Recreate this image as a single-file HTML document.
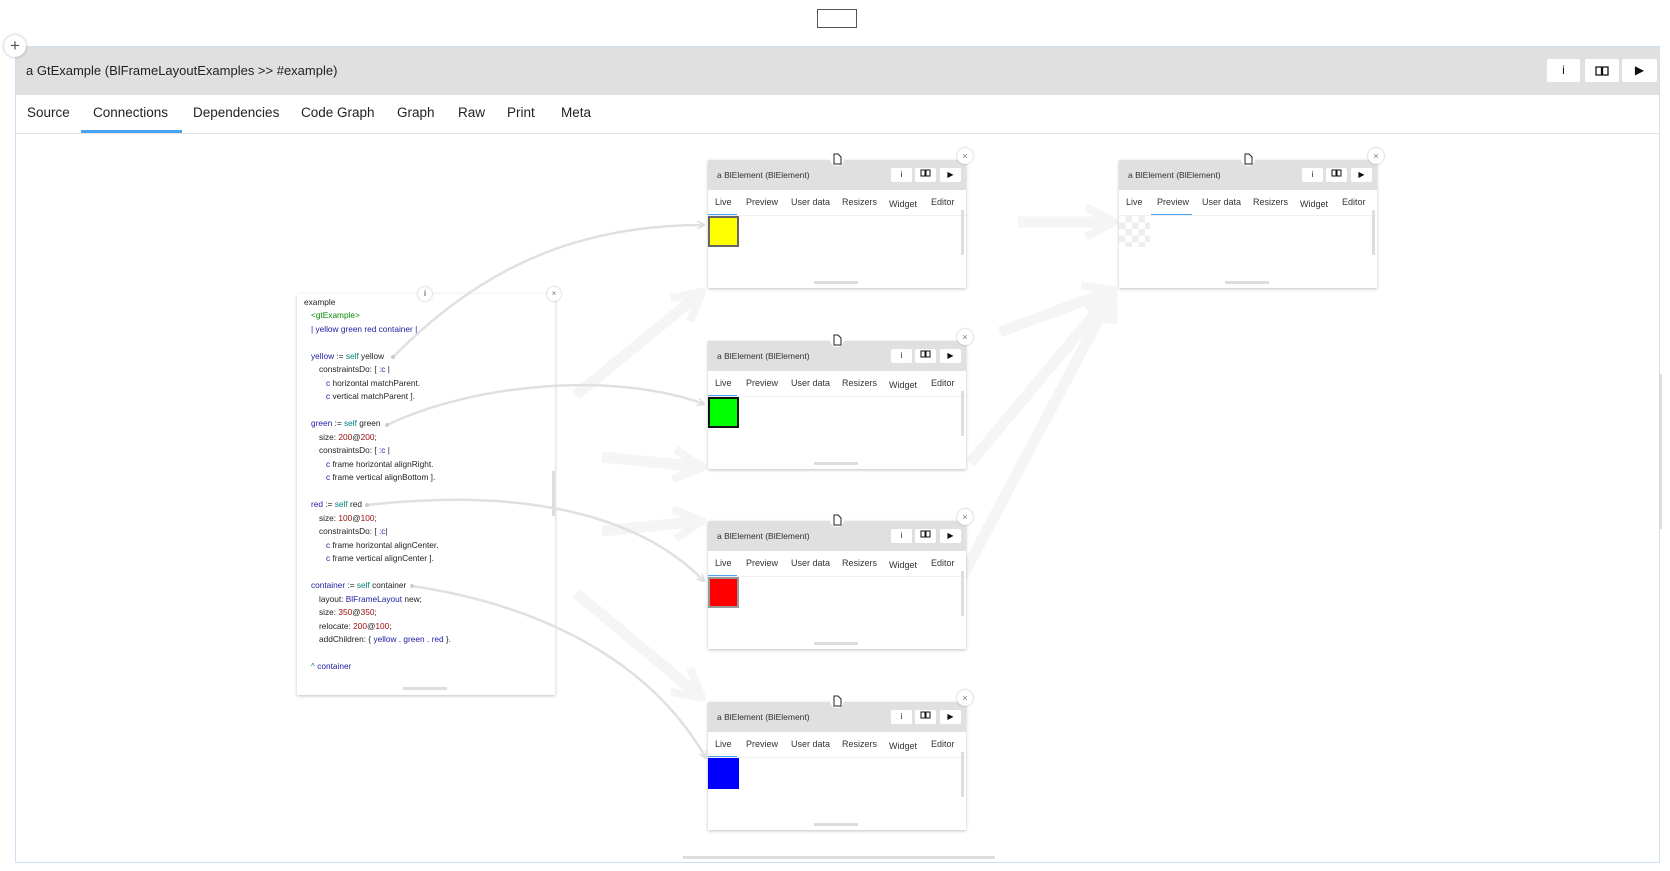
<!DOCTYPE html>
<html><head><meta charset="utf-8"><style>
*{box-sizing:border-box;margin:0;padding:0}
body{width:1670px;height:871px;position:relative;background:#fff;font-family:"Liberation Sans",sans-serif;overflow:hidden;color:#222}
.a{position:absolute}
.card{position:absolute;width:258px;height:128px;background:#fff;box-shadow:0 1px 3px rgba(0,0,0,.25)}
.card .hd{position:absolute;left:0;top:0;width:258px;height:30px;background:#e0e0e0}
.card .tt{position:absolute;left:9px;top:10px;font-size:8.5px;color:#333}
.card .b{position:absolute;top:8px;width:21px;height:14px;background:#fff;border-radius:2px;font-size:8px;text-align:center;line-height:14px;color:#111}
.card .tab{position:absolute;top:37px;font-size:9px;color:#333}
.card .ul{position:absolute;top:54px;height:2px;background:#4aa3f0}
.card .sep{position:absolute;left:0;top:55px;width:258px;height:1px;background:#f0f0f0}
.card .sq{position:absolute;left:0;top:56px;width:31px;height:31px}
.card .vs{position:absolute;left:253px;top:50px;width:3px;height:45px;background:#ddd}
.card .hs{position:absolute;left:106px;top:121px;width:44px;height:3px;background:#ddd}
.card .doc{position:absolute;left:122px;top:-8px;width:14px;height:14px;border-radius:7px;background:#fff}
.card .x{position:absolute;left:249px;top:-12px;width:16px;height:16px;border-radius:8px;background:#fff;box-shadow:0 0 2px rgba(0,0,0,.3);font-size:9px;text-align:center;line-height:16px;color:#777}
.code{position:absolute;left:297px;top:294px;width:258px;height:401px;background:#fff;box-shadow:0 1px 3px rgba(0,0,0,.25)}
.cl{position:absolute;font-size:8.3px;white-space:pre;color:#222;line-height:12px}
.n{color:#1c1ca0}.t{color:#008080}.g{color:#0a8a0a}.r{color:#a01010}
.mb{position:absolute;top:59px;height:23px;background:#fff;border-radius:2px;font-size:12px;text-align:center;line-height:23px;color:#111}
.tb{position:absolute;top:105px;font-size:13.5px;color:#222}
</style></head><body>
<div class="a" style="left:817px;top:9px;width:40px;height:19px;border:1.5px solid #555"></div>
<div class="a" style="left:15px;top:46px;width:1645px;height:817px;border:1px solid #cfe0f5;background:#fff"></div>
<div class="a" style="left:16px;top:47px;width:1643px;height:48px;background:#e0e0e0"></div>
<div class="a" style="left:26px;top:63px;font-size:13px;color:#222">a GtExample (BlFrameLayoutExamples &gt;&gt; #example)</div>
<div class="mb" style="left:1547px;width:33px">i</div>
<div class="mb" style="left:1585px;width:34px"><svg width="14" height="10" style="vertical-align:middle"><path d="M1,1h5.5v8H1zM7.5,1H13v8H7.5z" fill="none" stroke="#111" stroke-width="1.3"/></svg></div>
<div class="mb" style="left:1622px;width:35px">&#9654;</div>
<div class="a" style="left:4px;top:35px;width:22px;height:22px;border-radius:11px;background:#fff;box-shadow:0 0 3px rgba(0,0,0,.3);text-align:center;line-height:21px;font-size:17px;color:#555">+</div>
<div class="tb" style="left:27px">Source</div>
<div class="tb" style="left:93px">Connections</div>
<div class="tb" style="left:193px">Dependencies</div>
<div class="tb" style="left:301px">Code Graph</div>
<div class="tb" style="left:397px">Graph</div>
<div class="tb" style="left:458px">Raw</div>
<div class="tb" style="left:507px">Print</div>
<div class="tb" style="left:561px">Meta</div>
<div class="a" style="left:81px;top:130px;width:101px;height:3px;background:#4aa3f0"></div>
<div class="a" style="left:16px;top:133px;width:1643px;height:1px;background:#e4e4e4"></div>
<div class="a" style="left:683px;top:856px;width:312px;height:3px;background:#ddd"></div>
<div class="a" style="left:1659px;top:374px;width:3px;height:155px;background:#ddd"></div>

<svg class="a" style="left:0;top:0" width="1670" height="871">
<defs>
<marker id="M" markerWidth="40" markerHeight="40" refX="36" refY="20" orient="auto" markerUnits="userSpaceOnUse"><path d="M8,5 L36,20 L8,35" fill="none" stroke="#f5f5f5" stroke-width="8"/></marker></defs>
<g stroke="#f5f5f5" stroke-width="11" fill="none" marker-end="url(#M)">
<path d="M576,395 L702,292"/>
<path d="M602,457 L702,467"/>
<path d="M602,531 L702,521"/>
<path d="M576,593 L702,698"/>
<path d="M1018,222 L1114,222"/>
<path d="M1000,332 L1113,290"/>
<path d="M970,463 L1113,292"/>
<path d="M941,617 L1113,292"/>
</g>
</svg>

<div class="code">
<div class="a" style="left:121px;top:-7px;width:14px;height:14px;border-radius:7px;background:#fff;box-shadow:0 0 2px rgba(0,0,0,.3);font-size:8px;text-align:center;line-height:14px">i</div>
<div class="a" style="left:250px;top:-7px;width:14px;height:14px;border-radius:7px;background:#fff;box-shadow:0 0 2px rgba(0,0,0,.3);font-size:8px;text-align:center;line-height:14px;color:#777">×</div>
<div class="a" style="left:255px;top:177px;width:3px;height:45px;background:#ddd"></div>
<div class="a" style="left:106px;top:393px;width:44px;height:3px;background:#ddd"></div>
</div>
<div class="cl" style="left:304px;top:296px">example</div>
<div class="cl g" style="left:311px;top:309px">&lt;gtExample&gt;</div>
<div class="cl n" style="left:311px;top:323px">| yellow green red container |</div>
<div class="cl" style="left:311px;top:350px"><span class="n">yellow</span> := <span class="t">self</span> yellow</div>
<div class="cl" style="left:319px;top:363px">constraintsDo: [ <span class="n">:c</span> |</div>
<div class="cl" style="left:326px;top:377px"><span class="n">c</span> horizontal matchParent.</div>
<div class="cl" style="left:326px;top:390px"><span class="n">c</span> vertical matchParent ].</div>
<div class="cl" style="left:311px;top:417px"><span class="n">green</span> := <span class="t">self</span> green</div>
<div class="cl" style="left:319px;top:431px">size: <span class="r">200</span>@<span class="r">200</span>;</div>
<div class="cl" style="left:319px;top:444px">constraintsDo: [ <span class="n">:c</span> |</div>
<div class="cl" style="left:326px;top:458px"><span class="n">c</span> frame horizontal alignRight.</div>
<div class="cl" style="left:326px;top:471px"><span class="n">c</span> frame vertical alignBottom ].</div>
<div class="cl" style="left:311px;top:498px"><span class="n">red</span> := <span class="t">self</span> red</div>
<div class="cl" style="left:319px;top:512px">size: <span class="r">100</span>@<span class="r">100</span>;</div>
<div class="cl" style="left:319px;top:525px">constraintsDo: [ <span class="n">:c</span>|</div>
<div class="cl" style="left:326px;top:539px"><span class="n">c</span> frame horizontal alignCenter.</div>
<div class="cl" style="left:326px;top:552px"><span class="n">c</span> frame vertical alignCenter ].</div>
<div class="cl" style="left:311px;top:579px"><span class="n">container</span> := <span class="t">self</span> container</div>
<div class="cl" style="left:319px;top:593px">layout: <span class="n">BlFrameLayout</span> new;</div>
<div class="cl" style="left:319px;top:606px">size: <span class="r">350</span>@<span class="r">350</span>;</div>
<div class="cl" style="left:319px;top:620px">relocate: <span class="r">200</span>@<span class="r">100</span>;</div>
<div class="cl" style="left:319px;top:633px">addChildren: { <span class="n">yellow</span> . <span class="n">green</span> . <span class="n">red</span> }.</div>
<div class="cl" style="left:311px;top:660px"><span class="t">^</span> <span class="n">container</span></div>

<!-- cards -->
<div class="card" style="left:708px;top:160px">
<div class="hd"></div><div class="tt">a BlElement (BlElement)</div>
<div class="b" style="left:183px">i</div><div class="b" style="left:207px"><svg width="11" height="8"><path d="M1,1h4v6H1zM6,1h4v6H6z" fill="none" stroke="#111"/></svg></div><div class="b" style="left:232px">&#9654;</div>
<div class="tab" style="left:7px">Live</div><div class="tab" style="left:38px">Preview</div><div class="tab" style="left:83px">User data</div><div class="tab" style="left:134px">Resizers</div><div class="tab" style="left:181px;top:39px">Widget</div><div class="tab" style="left:223px">Editor</div>
<div class="ul" style="left:0;width:29px"></div><div class="sep"></div>
<div class="sq" style="background:#ff0;border:2px solid #666"></div>
<div class="vs"></div><div class="hs"></div><div class="doc"><svg width="14" height="14"><path d="M4,2h4l3,3v7H4z" fill="#fff" stroke="#222"/></svg></div><div class="x">×</div>
</div>
<div class="card" style="left:708px;top:341px">
<div class="hd"></div><div class="tt">a BlElement (BlElement)</div>
<div class="b" style="left:183px">i</div><div class="b" style="left:207px"><svg width="11" height="8"><path d="M1,1h4v6H1zM6,1h4v6H6z" fill="none" stroke="#111"/></svg></div><div class="b" style="left:232px">&#9654;</div>
<div class="tab" style="left:7px">Live</div><div class="tab" style="left:38px">Preview</div><div class="tab" style="left:83px">User data</div><div class="tab" style="left:134px">Resizers</div><div class="tab" style="left:181px;top:39px">Widget</div><div class="tab" style="left:223px">Editor</div>
<div class="ul" style="left:0;width:29px"></div><div class="sep"></div>
<div class="sq" style="background:#0f0;border:2px solid #111"></div>
<div class="vs"></div><div class="hs"></div><div class="doc"><svg width="14" height="14"><path d="M4,2h4l3,3v7H4z" fill="#fff" stroke="#222"/></svg></div><div class="x">×</div>
</div>
<div class="card" style="left:708px;top:521px">
<div class="hd"></div><div class="tt">a BlElement (BlElement)</div>
<div class="b" style="left:183px">i</div><div class="b" style="left:207px"><svg width="11" height="8"><path d="M1,1h4v6H1zM6,1h4v6H6z" fill="none" stroke="#111"/></svg></div><div class="b" style="left:232px">&#9654;</div>
<div class="tab" style="left:7px">Live</div><div class="tab" style="left:38px">Preview</div><div class="tab" style="left:83px">User data</div><div class="tab" style="left:134px">Resizers</div><div class="tab" style="left:181px;top:39px">Widget</div><div class="tab" style="left:223px">Editor</div>
<div class="ul" style="left:0;width:29px"></div><div class="sep"></div>
<div class="sq" style="background:#f00;border:2px solid #999"></div>
<div class="vs"></div><div class="hs"></div><div class="doc"><svg width="14" height="14"><path d="M4,2h4l3,3v7H4z" fill="#fff" stroke="#222"/></svg></div><div class="x">×</div>
</div>
<div class="card" style="left:708px;top:702px">
<div class="hd"></div><div class="tt">a BlElement (BlElement)</div>
<div class="b" style="left:183px">i</div><div class="b" style="left:207px"><svg width="11" height="8"><path d="M1,1h4v6H1zM6,1h4v6H6z" fill="none" stroke="#111"/></svg></div><div class="b" style="left:232px">&#9654;</div>
<div class="tab" style="left:7px">Live</div><div class="tab" style="left:38px">Preview</div><div class="tab" style="left:83px">User data</div><div class="tab" style="left:134px">Resizers</div><div class="tab" style="left:181px;top:39px">Widget</div><div class="tab" style="left:223px">Editor</div>
<div class="ul" style="left:0;width:29px"></div><div class="sep"></div>
<div class="sq" style="background:#00f"></div>
<div class="vs"></div><div class="hs"></div><div class="doc"><svg width="14" height="14"><path d="M4,2h4l3,3v7H4z" fill="#fff" stroke="#222"/></svg></div><div class="x">×</div>
</div>
<div class="card" style="left:1119px;top:160px">
<div class="hd"></div><div class="tt">a BlElement (BlElement)</div>
<div class="b" style="left:183px">i</div><div class="b" style="left:207px"><svg width="11" height="8"><path d="M1,1h4v6H1zM6,1h4v6H6z" fill="none" stroke="#111"/></svg></div><div class="b" style="left:232px">&#9654;</div>
<div class="tab" style="left:7px">Live</div><div class="tab" style="left:38px">Preview</div><div class="tab" style="left:83px">User data</div><div class="tab" style="left:134px">Resizers</div><div class="tab" style="left:181px;top:39px">Widget</div><div class="tab" style="left:223px">Editor</div>
<div class="ul" style="left:32px;width:41px"></div><div class="sep"></div>
<div class="sq" style="background-color:#fff;background-image:linear-gradient(45deg,#eee 25%,transparent 25%,transparent 75%,#eee 75%),linear-gradient(45deg,#eee 25%,transparent 25%,transparent 75%,#eee 75%);background-size:13px 13px;background-position:0 0,6.5px 6.5px"></div>
<div class="vs"></div><div class="hs"></div><div class="doc"><svg width="14" height="14"><path d="M4,2h4l3,3v7H4z" fill="#fff" stroke="#222"/></svg></div><div class="x">×</div>
</div>

<svg class="a" style="left:0;top:0" width="1670" height="871">
<defs><marker id="m" markerWidth="8" markerHeight="8" refX="7" refY="4" orient="auto" markerUnits="userSpaceOnUse"><path d="M0,0 L8,4 L0,8" fill="none" stroke="#ddd" stroke-width="1.5"/></marker></defs>
<g stroke="#e0e0e0" stroke-width="2.5" fill="none" marker-end="url(#m)">
<path d="M393,357 C470,280 560,225 704,225"/>
<path d="M387,425 C470,385 610,370 704,404"/>
<path d="M367,505 C500,490 630,505 704,581"/>
<path d="M412,586 C540,605 650,660 706,758"/>
</g>
<g fill="#ccc"><circle cx="393" cy="357" r="2"/><circle cx="387" cy="425" r="2"/><circle cx="367" cy="505" r="2"/><circle cx="412" cy="586" r="2"/></g>
</svg>
</body></html>
